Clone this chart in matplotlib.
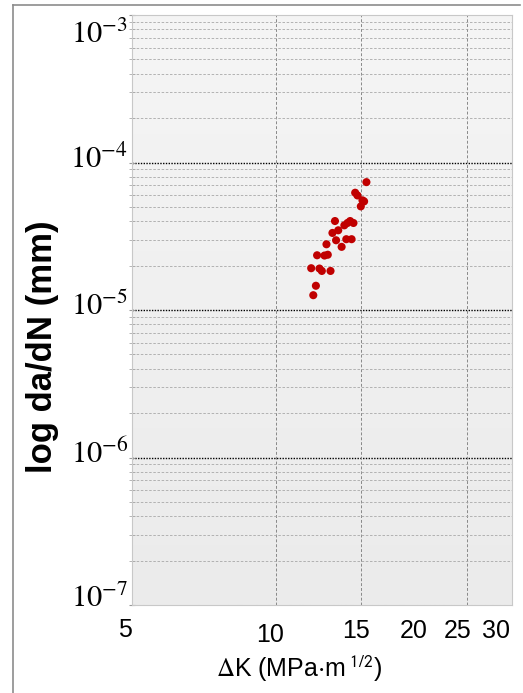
import matplotlib
matplotlib.use("Agg")
import matplotlib.pyplot as plt
import matplotlib.transforms as mtrans
import numpy as np
from matplotlib.lines import Line2D

plt.rcParams['mathtext.fontset'] = 'stix'
plt.rcParams['font.family'] = ['Liberation Sans', 'DejaVu Sans']

# data
delta_k = [15.41, 14.60, 14.76, 15.12, 15.24, 15.00, 13.25, 14.25, 14.48, 14.07,
           13.86, 13.46, 13.09, 13.32, 13.99, 14.35, 12.72, 13.68, 12.16, 12.60,
           12.80, 11.82, 12.30, 12.44, 12.97, 12.09, 11.94]
dadn = [7.36e-5, 6.24e-5, 5.98e-5, 5.54e-5, 5.45e-5, 5.04e-5, 4.01e-5, 4.01e-5, 3.89e-5, 3.89e-5,
        3.75e-5, 3.47e-5, 3.33e-5, 2.97e-5, 3.02e-5, 3.02e-5, 2.79e-5, 2.68e-5, 2.35e-5, 2.34e-5,
        2.37e-5, 1.92e-5, 1.91e-5, 1.84e-5, 1.84e-5, 1.46e-5, 1.26e-5]

x_ticks = [5, 10, 15, 20, 25, 30]
x_label_shift = [-7, -6, -5, -7, -10, -9]  # px, labels sit a little left of their ticks
x_label_drop = [-13, -18, -14, -14, -14, -14]  # px below the axes
x_grid = [10, 15, 25]
y_ticks = [1e-7, 1e-6, 1e-5, 1e-4, 1e-3]
y_major_lines = [1e-6, 1e-5, 1e-4]
y_labels = [r'$10^{-7}$', r'$10^{-6}$', r'$10^{-5}$', r'$10^{-4}$', r'$10^{-3}$']
y_label_shift = [-2, -5, -5, -5, -28]  # px, baseline offset from gridline

fig = plt.figure(figsize=(5.23, 6.93), dpi=100)
ax = fig.add_axes([132/523, 88/693, 380/523, 590/693])

# light gray gradient background
grad = np.linspace(0, 1, 256).reshape(-1, 1)
ax.imshow(grad, extent=[0, 1, 0, 1], transform=ax.transAxes, aspect='auto',
          cmap=matplotlib.colors.LinearSegmentedColormap.from_list('bg', ['#ebebeb', '#f5f5f5']),
          origin='lower', zorder=0)

ax.set_xscale('log')
ax.set_yscale('log')
ax.set_xlim(5, 31)
ax.set_ylim(1e-7, 1.0e-3)

# grid
ax.yaxis.grid(True, which='minor', color='#a8a8a8', linestyle=(0, (3, 2)), linewidth=0.6, zorder=1)
for g in y_major_lines:
    ax.axhline(g, color='black', linestyle=(0, (1, 1)), linewidth=1.0, zorder=1)
for g in x_grid:
    ax.axvline(g, color='#888888', linestyle=(0, (3, 2)), linewidth=0.7, zorder=1)

ax.scatter(delta_k, dadn, s=34, color='#c00000', edgecolors='none', zorder=3)

ax.set_xticks(x_ticks)
ax.set_xticklabels([])
ax.xaxis.set_minor_locator(matplotlib.ticker.NullLocator())
ax.set_yticks(y_ticks)
ax.set_yticklabels([])

# tick labels drawn by hand so they can be nudged like in the original
xblend = mtrans.blended_transform_factory(ax.transData, ax.transAxes)
for val, dx, dy in zip(x_ticks, x_label_shift, x_label_drop):
    tr = xblend + mtrans.ScaledTranslation(dx / 100, dy / 100, fig.dpi_scale_trans)
    ax.text(val, 0, str(val), transform=tr, ha='center', va='top', fontsize=18, clip_on=False)
yblend = mtrans.blended_transform_factory(ax.transAxes, ax.transData)
for val, lab, dy in zip(y_ticks, y_labels, y_label_shift):
    tr = yblend + mtrans.ScaledTranslation(0, dy / 100, fig.dpi_scale_trans)
    ax.text(-0.01, val, lab, transform=tr, ha='right', va='baseline', fontsize=22, clip_on=False)

ax.tick_params(axis='x', which='both', length=0)
ax.tick_params(axis='y', which='major', length=5, direction='inout', color='#999999', pad=2)
ax.tick_params(axis='y', which='minor', length=4, direction='inout', color='#aaaaaa')
for sp in ax.spines.values():
    sp.set_color('#c8c8c8')
    sp.set_linewidth(0.8)

ax.set_xlabel(r'$\Delta$K (MPa$\cdot$m$^{\ \mathsf{1/2}}$)', fontsize=18)
ax.xaxis.set_label_coords(0.44, -0.083)
ax.set_ylabel('log da/dN (mm)', fontsize=25, fontweight='bold')
ax.yaxis.set_label_coords(-0.191, 0.437)

# outer frame lines
fig.add_artist(Line2D([13/523, 13/523], [0, 1 - 5/693], color='#8c8c8c', linewidth=1.2))
fig.add_artist(Line2D([13/523, 520/523], [1 - 5/693, 1 - 5/693], color='#8c8c8c', linewidth=1.2))

fig.savefig('out.png', dpi=100)
